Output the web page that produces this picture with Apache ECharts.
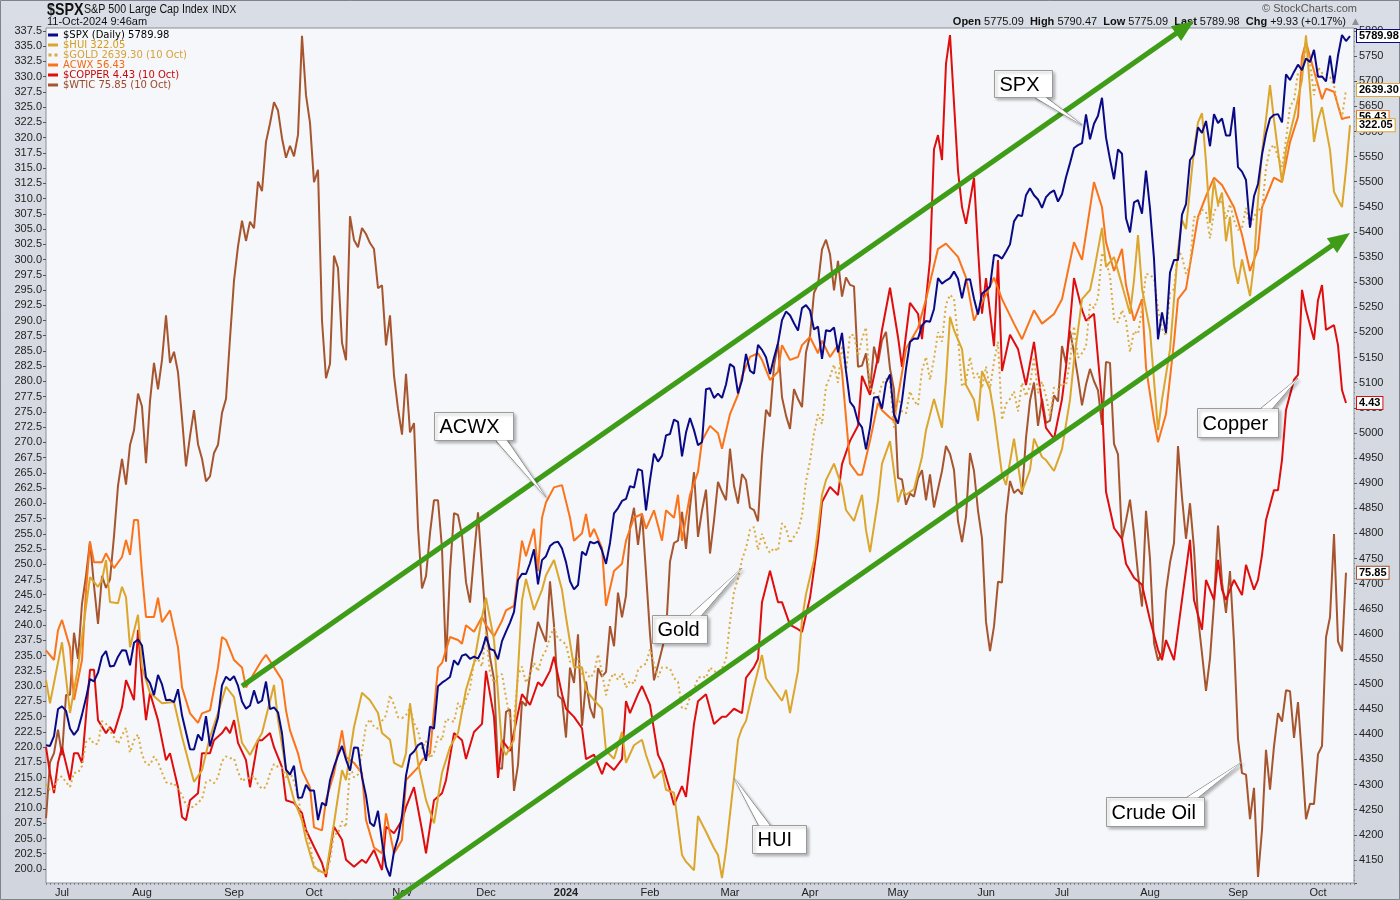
<!DOCTYPE html>
<html><head><meta charset="utf-8">
<script src="https://cdn.jsdelivr.net/npm/echarts@6.0.0/dist/echarts.min.js"></script>
<style>html,body{margin:0;padding:0;background:#d5dae3}#chart{width:1400px;height:900px}</style>
</head><body><div id="chart"></div>
<script>
// ---------- categories: NYSE trading days ----------
const HOLIDAYS = ['2023-07-04','2023-09-04','2023-11-23','2023-12-25','2024-01-01','2024-01-15','2024-02-19','2024-03-29','2024-05-27','2024-06-19','2024-07-04','2024-09-02'];
function tradingDays(a, b) {
  const out = []; const d = new Date(a + 'T00:00:00Z'); const end = new Date(b + 'T00:00:00Z');
  while (d <= end) {
    const dow = d.getUTCDay(); const s = d.toISOString().slice(0, 10);
    if (dow !== 0 && dow !== 6 && HOLIDAYS.indexOf(s) < 0) out.push(s);
    d.setUTCDate(d.getUTCDate() + 1);
  }
  return out;
}
const dates = tradingDays('2023-06-27', '2024-10-14');
const MONTHS = ['Jan','Feb','Mar','Apr','May','Jun','Jul','Aug','Sep','Oct','Nov','Dec'];

// ---------- series values (one per trading day, from 2023-06-27) ----------
const spx = [4378.41,4376.86,4396.44,4450.38,
4455.59,4446.82,4411.59,4398.95,4409.53,4439.26,4472.16,4510.04,4505.42,4522.79,4554.98,4565.72,4534.87,4536.34,4554.64,4567.46,4566.75,4537.41,4582.23,4588.96,
4576.73,4513.39,4501.89,4478.03,4518.44,4499.38,4467.71,4468.83,4464.05,4489.72,4437.86,4404.33,4370.36,4369.71,4399.77,4387.55,4436.01,4376.31,4405.71,4433.31,4497.63,4514.87,4507.66,
4515.77,4496.83,4465.48,4451.14,4457.49,4487.46,4461.90,4467.44,4505.10,4450.32,4453.53,4443.95,4402.20,4330.00,4320.06,4337.44,4273.53,4274.51,4299.70,4288.05,
4288.39,4229.45,4263.75,4258.19,4308.50,4335.66,4358.24,4376.95,4349.61,4327.78,4373.63,4373.20,4314.60,4278.00,4224.16,4217.04,4247.68,4186.77,4137.23,4117.37,4166.82,4193.80,
4237.86,4317.78,4358.34,4365.98,4378.38,4382.78,4347.35,4415.24,4411.55,4495.70,4502.88,4508.24,4514.02,4547.38,4538.19,4556.62,4559.34,4550.43,4554.89,4550.58,4567.80,
4594.63,4569.78,4567.18,4549.34,4585.59,4604.37,4622.44,4643.70,4707.09,4719.55,4719.19,4740.56,4768.37,4698.35,4746.75,4754.63,4774.75,4781.58,4783.35,4769.83,
4742.83,4704.81,4688.68,4697.24,4763.54,4756.50,4783.45,4780.24,4783.83,4765.98,4739.21,4780.94,4839.81,4850.43,4864.60,4868.55,4894.16,4890.97,4927.93,4924.97,4845.65,
4906.19,4958.61,4942.81,4954.23,4995.06,4997.91,5026.61,5021.84,4953.17,5000.62,5029.73,5005.57,4975.51,4981.80,5087.03,5088.80,5069.53,5078.18,5069.76,5096.27,
5137.08,5130.95,5078.65,5104.76,5157.36,5123.69,5117.94,5175.27,5165.31,5150.48,5117.09,5149.42,5178.51,5224.62,5241.53,5234.18,5218.19,5203.58,5248.49,5254.35,
5243.77,5205.81,5211.49,5147.21,5204.34,5202.39,5209.91,5160.64,5199.06,5123.41,5061.82,5051.41,5022.21,5011.12,4967.23,5010.60,5070.55,5071.63,5048.42,5099.96,5116.17,5035.69,
5018.39,5064.20,5127.79,5180.74,5187.70,5187.67,5214.08,5222.68,5221.42,5246.68,5308.15,5297.10,5303.27,5308.13,5321.41,5307.01,5267.84,5304.72,5306.04,5266.95,5235.48,5277.51,
5283.40,5291.34,5354.03,5352.96,5346.99,5360.79,5375.32,5421.03,5433.74,5431.60,5473.23,5487.03,5473.17,5464.62,5447.87,5469.30,5477.90,5482.87,5460.48,
5475.09,5509.01,5537.02,5567.19,5572.85,5576.98,5633.91,5584.54,5615.35,5631.22,5667.20,5588.27,5544.59,5505.00,5564.41,5555.74,5427.13,5399.22,5459.10,5463.54,5436.44,5522.30,
5446.68,5346.56,5186.33,5240.03,5199.50,5319.31,5344.16,5344.39,5434.43,5455.21,5543.22,5554.25,5608.25,5597.12,5620.85,5570.64,5634.61,5616.84,5625.80,5592.18,5591.96,5648.40,
5528.93,5520.07,5503.41,5408.42,5471.05,5495.52,5554.13,5595.76,5626.02,5633.09,5634.58,5618.26,5713.64,5702.55,5718.57,5732.93,5722.26,5745.37,5738.17,5762.48,
5708.75,5709.54,5699.94,5751.07,5695.94,5751.13,5792.04,5780.05,5789.98];

const gold = [1913,1907,1908,1919,
1921,1915,1910,1925,1925,1932,1957,1961,1955,1955,1979,1976,1969,1962,1955,1964,1972,1946,1959,1965,
1944,1934,1933,1942,1936,1925,1915,1913,1914,1907,1902,1891,1889,1889,1894,1897,1915,1917,1914,1920,1937,1942,1940,
1940,1926,1916,1919,1919,1922,1913,1908,1910,1924,1934,1931,1930,1920,1925,1916,1901,1874,1864,1849,
1828,1822,1821,1820,1833,1861,1861,1874,1868,1932,1920,1923,1947,1974,1981,1973,1971,1979,1985,2006,1996,1983,
1982,1985,1993,1977,1969,1950,1958,1940,1946,1963,1959,1981,1980,1978,1998,1991,2002,2013,2041,2044,2036,
2072,2029,2019,2026,2028,2004,1982,1979,2027,2036,2019,2027,2040,2031,2046,2053,2067,2077,2065,2063,
2059,2041,2043,2045,2028,2030,2024,2029,2049,2030,2006,2023,2029,2022,2029,2014,2021,2018,2032,2037,2039,
2054,2039,2025,2035,2035,2034,2024,2020,1992,1992,2004,2013,2024,2026,2024,2035,2031,2030,2034,2044,
2083,2114,2128,2148,2160,2179,2182,2158,2175,2162,2155,2160,2157,2186,2181,2165,2172,2178,2194,2230,
2251,2280,2300,2290,2329,2339,2352,2333,2372,2344,2383,2383,2361,2379,2391,2327,2322,2316,2332,2337,2335,2286,
2320,2303,2301,2324,2314,2309,2346,2360,2336,2358,2386,2376,2415,2425,2421,2379,2329,2334,2360,2338,2343,2327,
2350,2327,2355,2376,2294,2311,2316,2324,2303,2333,2319,2330,2360,2322,2334,2319,2298,2328,2326,
2333,2330,2356,2392,2359,2364,2371,2415,2411,2422,2469,2459,2445,2400,2396,2409,2398,2365,2387,2384,2410,2447,
2446,2442,2410,2390,2382,2427,2431,2472,2465,2447,2456,2507,2504,2514,2512,2484,2512,2518,2524,2504,2520,2503,
2493,2495,2516,2497,2506,2516,2512,2558,2578,2582,2569,2559,2587,2622,2629,2657,2660,2685,2668,2634,
2663,2657,2656,2653,2644,2622,2611,2639.30];

const wtic = [67.70,69.56,69.86,70.64,
69.79,71.79,71.80,73.86,72.99,74.83,75.75,76.89,75.42,74.15,75.75,75.35,75.63,77.07,78.74,79.63,78.78,80.09,80.58,81.80,
81.37,79.49,81.55,82.82,81.94,82.92,84.40,82.82,83.19,82.51,80.99,79.38,80.39,81.25,80.12,79.64,78.89,79.05,79.83,80.10,81.16,81.63,83.63,
85.55,86.69,87.54,86.87,87.51,87.29,88.84,88.52,90.16,90.77,91.48,91.20,90.28,89.63,90.03,89.68,90.39,93.68,91.71,90.79,
88.82,89.23,84.22,82.31,82.79,86.38,85.97,83.49,82.91,87.69,86.90,86.66,87.30,87.10,86.80,86.60,85.30,85.40,83.40,84.40,82.40,81.30,
80.44,82.46,80.51,80.82,77.37,75.33,75.74,77.17,78.26,78.26,76.66,72.90,75.89,77.83,77.77,77.10,75.54,74.86,76.41,77.86,75.96,
74.07,73.04,72.32,69.38,69.34,71.23,71.32,68.61,69.47,71.58,71.43,72.47,73.44,74.22,73.89,73.56,75.57,74.11,71.77,71.65,
70.38,72.70,72.19,73.81,70.77,72.24,71.37,71.02,72.68,72.40,72.56,74.08,73.41,75.19,74.37,75.09,77.36,78.01,76.78,77.82,75.85,
73.82,72.28,72.78,73.31,73.86,76.22,76.84,76.92,77.87,76.64,78.03,79.19,77.04,77.91,78.61,76.49,77.58,78.87,78.54,78.26,
79.97,78.74,78.15,79.13,78.93,78.01,77.93,77.56,79.72,81.26,81.04,82.72,83.47,81.68,81.07,80.63,81.95,81.62,81.35,83.17,
83.71,85.15,85.43,86.59,86.91,86.43,85.23,86.21,85.02,85.66,85.41,85.36,82.69,82.73,83.14,81.90,83.36,82.81,83.57,83.85,82.63,81.93,
79.00,78.95,78.11,78.48,78.38,78.99,79.26,78.26,79.12,78.02,78.63,79.23,80.06,79.80,79.26,77.57,76.87,77.72,79.83,79.23,77.91,76.99,
74.22,73.25,74.07,75.55,75.53,77.74,78.90,78.50,78.62,78.45,80.33,81.57,82.17,80.73,81.63,80.83,80.90,81.74,81.54,
83.38,82.81,83.88,83.16,82.33,81.41,82.10,82.62,82.21,81.91,80.76,82.85,82.82,80.13,79.78,76.96,77.59,78.28,77.16,75.81,74.73,77.91,
76.31,73.52,72.94,73.20,75.23,76.19,76.84,80.06,78.35,76.98,78.16,76.65,74.37,73.17,71.93,73.01,74.83,77.42,75.53,74.52,75.91,73.55,
70.34,69.20,69.15,67.67,68.71,65.75,67.31,69.97,68.65,70.09,71.19,70.91,71.95,71.92,70.37,71.56,69.69,67.67,68.18,68.17,
69.83,70.10,73.71,74.38,77.14,73.57,73.24,75.85];

// ---------- series values read at turning points: [trading-day index, value] ----------
const hui = [[0,231.0],[1,227.2],[4,237.2],[6,225.6],[8,233.1],[10,243.0],[11,247.9],[13,246.3],[14,247.4],[15,250.7],[16,243.8],[18,243.6],[19,246.3],[20,244.6],[21,236.4],[23,241.7],[24,233.1],[26,228.9],[29,227.2],[32,227.4],[34,221.7],[36,216.7],[37,214.3],[39,216.2],[41,221.7],[43,225.6],[45,229.9],[47,228.2],[49,220.7],[51,218.7],[53,221.2],[54,222.3],[57,230.2],[58,224.5],[60,216.2],[62,211.3],[64,208.0],[65,204.8],[67,200.3],[69,199.5],[70,199.3],[72,207.5],[74,216.2],[75,214.6],[77,223.3],[79,228.9],[81,227.7],[83,225.6],[84,222.3],[86,221.2],[87,217.4],[89,216.7],[90,219.0],[91,227.2],[93,217.4],[95,211.3],[97,207.5],[99,215.8],[101,220.0],[103,222.3],[105,229.4],[107,233.8],[109,241.3],[110,244.5],[112,237.6],[114,220.0],[115,218.7],[117,221.2],[119,244.1],[120,247.6],[122,242.5],[124,245.8],[125,248.2],[127,250.7],[129,245.8],[130,241.3],[132,233.1],[134,233.1],[135,229.4],[137,227.7],[139,226.3],[140,219.4],[142,218.1],[144,222.5],[145,217.4],[147,220.3],[149,221.2],[150,218.7],[152,214.9],[154,216.2],[155,213.0],[157,212.5],[159,202.3],[160,201.2],[162,199.8],[163,208.7],[164,207.4],[165,206.1],[167,203.4],[168,202.3],[169,198.5],[170,203.1],[172,214.9],[173,221.2],[174,223.1],[175,224.3],[177,230.0],[179,235.1],[180,231.3],[182,229.4],[184,227.6],[185,229.4],[186,225.6],[188,232.5],[189,240.9],[190,245.1],[192,250.7],[193,255.8],[194,261.4],[195,263.8],[197,266.5],[199,262.7],[200,258.9],[202,257.1],[204,261.4],[205,255.6],[206,252.0],[208,260.5],[209,266.5],[211,270.2],[213,260.2],[214,262.3],[215,261.4],[217,262.3],[219,267.6],[220,272.0],[222,277.1],[224,272.4],[225,280.2],[226,290.6],[227,288.4],[229,285.3],[230,279.4],[232,277.0],[233,273.5],[234,281.7],[236,278.6],[237,274.7],[239,264.8],[240,263.0],[242,270.6],[243,266.3],[244,261.9],[246,265.5],[247,270.6],[249,267.6],[250,267.1],[252,265.3],[253,267.1],[254,268.9],[256,277.0],[257,283.5],[258,288.4],[259,293.5],[261,295.0],[262,298.1],[264,305.2],[265,298.8],[267,300.4],[269,295.8],[271,291.1],[272,296.6],[273,304.0],[274,295.2],[276,288.4],[277,280.2],[278,272.0],[279,277.0],[281,285.2],[282,293.4],[283,301.6],[284,306.5],[285,305.0],[286,311.6],[287,318.0],[288,322.5],[289,324.0],[290,316.0],[291,306.0],[292,313.0],[293,309.0],[294,311.0],[295,303.0],[296,307.0],[297,299.0],[298,296.0],[299,300.0],[300,297.0],[301,294.0],[302,299.3],[303,309.8],[304,317.5],[306,328.6],[307,322.9],[309,312.7],[310,318.0],[312,323.4],[314,329.5],[315,336.8],[317,319.3],[318,322.9],[319,325.0],[321,318.0],[322,311.1],[323,309.8],[324,308.6],[325,314.7],[326,322.05]];

const acwx = [[0,49.23],[2,49.10],[3,49.50],[4,49.64],[6,49.27],[7,48.56],[8,48.83],[9,49.10],[10,50.04],[11,50.69],[12,50.42],[14,50.42],[15,50.54],[17,50.34],[19,50.49],[20,50.72],[21,50.52],[22,50.99],[23,50.99],[24,50.27],[25,49.68],[27,49.68],[28,49.94],[29,49.61],[31,49.77],[33,49.27],[34,48.73],[36,48.38],[38,48.25],[39,48.38],[41,48.42],[43,49.00],[44,49.41],[45,49.37],[47,49.10],[49,49.00],[50,48.73],[52,48.92],[54,49.10],[55,49.17],[57,49.00],[59,48.83],[60,48.42],[61,48.15],[63,47.84],[64,47.61],[66,47.38],[67,46.84],[69,46.80],[70,47.21],[72,47.57],[74,48.15],[75,47.79],[77,47.71],[79,47.57],[80,46.94],[82,46.57],[84,46.49],[85,47.03],[87,46.49],[89,46.67],[90,47.48],[93,47.65],[94,47.75],[96,47.84],[98,49.00],[99,49.06],[101,49.41],[103,49.37],[104,49.32],[105,49.57],[107,49.48],[109,49.68],[110,49.57],[112,49.42],[114,49.63],[115,49.77],[117,49.83],[119,50.71],[120,50.50],[122,50.87],[123,50.30],[124,51.02],[125,51.23],[127,51.43],[129,51.46],[131,51.02],[132,50.71],[134,50.81],[135,51.07],[136,50.76],[137,50.87],[139,50.61],[140,49.83],[142,50.30],[144,50.40],[145,50.71],[147,51.02],[149,51.07],[150,50.87],[152,51.12],[154,50.71],[155,51.12],[157,51.02],[158,51.33],[159,50.71],[161,51.33],[163,51.64],[164,52.06],[166,52.26],[168,52.16],[169,51.95],[171,52.42],[173,52.68],[174,52.93],[176,53.19],[178,53.24],[179,53.15],[181,52.88],[183,52.99],[184,53.35],[186,53.15],[188,53.19],[189,53.35],[191,53.46],[193,53.24],[194,53.41],[196,53.19],[198,53.35],[199,52.99],[201,51.75],[203,51.60],[204,51.60],[206,52.06],[208,52.57],[209,52.47],[211,52.37],[212,52.33],[215,53.30],[218,53.58],[220,53.97],[223,54.65],[225,54.72],[228,54.54],[230,54.26],[232,53.68],[234,53.92],[237,54.26],[239,53.97],[242,53.64],[244,53.43],[247,53.82],[249,53.64],[252,53.77],[254,53.97],[257,54.74],[259,54.50],[262,55.55],[264,55.21],[265,54.74],[267,54.35],[269,54.65],[270,54.16],[272,53.68],[274,53.97],[275,53.05],[277,52.33],[278,52.04],[280,52.42],[282,53.39],[283,53.97],[285,54.11],[288,55.08],[290,55.36],[292,55.61],[294,55.51],[297,55.21],[299,54.84],[301,54.35],[303,54.65],[304,55.21],[307,55.61],[309,55.55],[311,56.09],[313,56.43],[314,57.24],[315,57.44],[317,57.05],[319,56.67],[320,56.81],[322,56.77],[324,56.40],[325,56.42],[326,56.43]];

const copper = [[0,3.794],[1,3.746],[2,3.709],[3,3.765],[4,3.794],[6,3.733],[7,3.783],[8,3.783],[9,3.765],[11,3.937],[12,3.937],[13,3.844],[15,3.820],[16,3.831],[17,3.820],[19,3.868],[20,3.918],[21,3.900],[22,3.881],[23,4.011],[24,3.918],[25,3.844],[26,3.894],[28,3.844],[30,3.770],[31,3.783],[33,3.720],[34,3.665],[35,3.659],[36,3.696],[38,3.709],[39,3.783],[41,3.783],[42,3.807],[44,3.820],[45,3.831],[46,3.820],[47,3.844],[48,3.802],[50,3.770],[51,3.720],[53,3.807],[54,3.807],[56,3.820],[57,3.794],[59,3.757],[60,3.696],[62,3.691],[64,3.672],[65,3.641],[67,3.610],[69,3.580],[70,3.554],[72,3.647],[74,3.623],[75,3.586],[77,3.573],[79,3.586],[80,3.580],[82,3.604],[84,3.567],[85,3.647],[87,3.635],[89,3.659],[90,3.683],[92,3.720],[94,3.641],[95,3.598],[97,3.696],[99,3.709],[100,3.733],[102,3.820],[104,3.807],[105,3.772],[107,3.822],[109,3.837],[110,3.935],[112,3.850],[113,3.737],[114,3.807],[116,3.787],[118,3.857],[119,3.892],[121,3.872],[123,3.914],[124,3.907],[126,3.935],[127,3.961],[129,3.892],[130,3.865],[132,3.850],[134,3.829],[135,3.772],[137,3.780],[139,3.744],[140,3.765],[142,3.752],[144,3.772],[145,3.879],[146,3.857],[148,3.892],[149,3.907],[151,3.872],[153,3.780],[154,3.765],[156,3.715],[157,3.687],[159,3.722],[160,3.702],[162,3.837],[163,3.879],[165,3.892],[167,3.837],[169,3.850],[170,3.850],[172,3.865],[174,3.857],[175,3.922],[177,3.942],[178,3.957],[179,4.062],[181,4.120],[183,4.062],[184,4.062],[186,4.020],[188,4.012],[189,4.007],[191,4.070],[193,4.175],[194,4.247],[196,4.275],[198,4.260],[199,4.317],[201,4.360],[203,4.388],[204,4.480],[206,4.445],[208,4.515],[209,4.565],[211,4.643],[213,4.552],[214,4.497],[216,4.615],[218,4.595],[219,4.548],[221,4.694],[222,4.899],[223,4.925],[224,4.879],[225,5.057],[226,5.110],[228,4.859],[229,4.792],[230,4.761],[232,4.846],[233,4.715],[234,4.595],[235,4.661],[237,4.535],[238,4.694],[239,4.489],[241,4.556],[243,4.530],[245,4.463],[247,4.543],[249,4.430],[250,4.384],[252,4.364],[254,4.437],[255,4.497],[257,4.661],[259,4.602],[260,4.582],[262,4.595],[264,4.430],[265,4.266],[267,4.199],[269,4.179],[270,4.133],[272,4.107],[274,4.094],[276,4.029],[278,3.974],[279,3.955],[280,3.992],[282,3.955],[284,4.066],[285,4.121],[286,4.177],[287,4.066],[289,4.011],[290,4.103],[292,4.066],[293,4.140],[294,4.085],[295,4.066],[297,4.103],[299,4.075],[300,4.131],[302,4.085],[303,4.103],[304,4.149],[305,4.214],[307,4.269],[308,4.269],[309,4.325],[310,4.417],[312,4.473],[313,4.482],[314,4.639],[315,4.602],[317,4.547],[318,4.620],[319,4.648],[320,4.565],[322,4.574],[323,4.537],[324,4.454],[325,4.43]];

// ---------- annotations in data coordinates (trading-day index, S&P 500 level) ----------
const trendLines = [ { from: [49, 4496], to: [287, 5820] }, { from: [87, 4070], to: [326, 5398] } ];
const callouts = [
  { text: 'SPX', at: [259, 5613] }, { text: 'ACWX', at: [125, 4872] }, { text: 'Gold', at: [174, 4731] },
  { text: 'HUI', at: [172, 4313] }, { text: 'Copper', at: [313, 5109] }, { text: 'Crude Oil', at: [299, 4345] }
];
const legendText = {
  '$SPX': '$SPX (Daily) 5789.98', '$HUI': '$HUI 322.05', '$GOLD': '$GOLD 2639.30 (10 Oct)',
  'ACWX': 'ACWX 56.43', '$COPPER': '$COPPER 4.43 (10 Oct)', '$WTIC': '$WTIC 75.85 (10 Oct)'
};

// ---------- layout / style ----------
const calloutLayout = {
  'SPX': [-88, -55, 58, 27], 'ACWX': [-112, -85, 79, 28], 'Gold': [-90, 47, 55, 28],
  'HUI': [18, 47, 54, 28], 'Copper': [-101, 30, 81, 29], 'Crude Oil': [-136, 35, 98, 29]
};
const C = { spx: '#0a0a86', hui: '#dba62b', gold: '#dcaa40', acwx: '#fb7419', copper: '#e00d0d', wtic: '#a6552e', green: '#3f9c17' };
const FONT = 'Liberation Sans';

function isMonthStart(i) { return i > 0 && i < dates.length && dates[i].slice(5, 7) !== dates[i - 1].slice(5, 7); }
function onStep(v, step) { return Math.abs(v / step - Math.round(v / step)) < 1e-6; }

function endLabel(color, dist) {
  return { show: true, distance: dist, color: '#000', fontWeight: 'bold', fontSize: 11, fontFamily: FONT,
    backgroundColor: '#fff', borderColor: color, borderWidth: 1, padding: [1, 2, 0, 2],
    formatter: p => { const v = Array.isArray(p.value) ? p.value[1] : p.value; return Number(v).toFixed(2); } };
}
function line(name, yAxisIndex, data, color, z, dist, dashed) {
  return { name, type: 'line', xAxisIndex: 0, yAxisIndex, data, symbol: 'none', showSymbol: false, silent: true, z,
    lineStyle: { color, width: 2, type: dashed ? [2, 3] : 'solid' }, itemStyle: { color },
    emphasis: { disabled: true }, endLabel: endLabel(color, dist) };
}
const hiddenY = (min, max) => ({ type: 'value', min, max, show: false, splitLine: { show: false } });

const option = {
  animation: false,
  backgroundColor: { type: 'linear', x: 0, y: 0, x2: 0, y2: 1, colorStops: [{ offset: 0, color: '#d9dde5' }, { offset: 1, color: '#d0d5de' }] },
  grid: { left: 46, right: 46, top: 28, bottom: 17, show: true, backgroundColor: '#f5f7fa', borderColor: '#8b9099', borderWidth: 1 },
  legend: {
    orient: 'vertical', left: 48, top: 30, itemGap: 0, itemWidth: 10, itemHeight: 3, padding: 0, selectedMode: false,
    textStyle: { fontFamily: 'DejaVu Sans', fontSize: 10, lineHeight: 10 },
    formatter: n => legendText[n],
    data: [
      { name: '$SPX', icon: 'path://M0,0h10v3h-10z', itemStyle: { color: C.spx }, textStyle: { color: '#000' } },
      { name: '$HUI', icon: 'path://M0,0h10v3h-10z', itemStyle: { color: C.hui }, textStyle: { color: '#d49b1c' } },
      { name: '$GOLD', icon: 'path://M0,0h3v3h-3z M6,0h3v3h-3z', itemStyle: { color: C.gold }, textStyle: { color: '#d6a23a' } },
      { name: 'ACWX', icon: 'path://M0,0h10v3h-10z', itemStyle: { color: C.acwx }, textStyle: { color: '#f36a10' } },
      { name: '$COPPER', icon: 'path://M0,0h10v3h-10z', itemStyle: { color: C.copper }, textStyle: { color: '#c80a0a' } },
      { name: '$WTIC', icon: 'path://M0,0h10v3h-10z', itemStyle: { color: C.wtic }, textStyle: { color: '#9a4a28' } }
    ]
  },
  xAxis: {
    type: 'category', data: dates, boundaryGap: false,
    axisLine: { show: false },
    axisTick: { show: true, interval: 0, length: 2, lineStyle: { color: '#7d828c' } },
    axisLabel: {
      interval: i => isMonthStart(i), margin: 4, fontSize: 11, fontFamily: FONT, color: '#222',
      formatter: v => { const m = +v.slice(5, 7); return m === 1 ? '{b|' + v.slice(0, 4) + '}' : MONTHS[m - 1]; },
      rich: { b: { fontWeight: 'bold', fontSize: 11, fontFamily: FONT, color: '#222' } }
    },
    splitLine: { show: false }
  },
  yAxis: [
    { type: 'value', position: 'left', min: 197.70, max: 337.99, minInterval: 2.5, maxInterval: 2.5,
      axisLine: { show: false }, splitLine: { show: false },
      axisTick: { show: true, length: 3, lineStyle: { color: '#555' } },
      axisLabel: { margin: 4, fontSize: 11, fontFamily: FONT, color: '#222', showMinLabel: false, showMaxLabel: false,
        formatter: v => onStep(v, 2.5) ? v.toFixed(1) : '' } },
    { type: 'value', position: 'right', min: 4104.1, max: 5806, minInterval: 50, maxInterval: 50,
      axisLine: { show: false }, splitLine: { show: false },
      axisTick: { show: true, length: 3, lineStyle: { color: '#555' } },
      minorTick: { show: true, splitNumber: 5, length: 1, lineStyle: { color: '#888' } },
      axisLabel: { margin: 5, fontSize: 11, fontFamily: FONT, color: '#222', showMinLabel: false, showMaxLabel: false,
        formatter: v => onStep(v, 50) ? String(Math.round(v)) : '' } },
    hiddenY(1809.5, 2704.2),   // gold
    hiddenY(46.09, 57.63),     // ACWX
    hiddenY(3.543, 5.123),     // copper
    hiddenY(65.55, 93.94)      // WTIC
  ],
  series: [
    line('$WTIC', 5, wtic, C.wtic, 2, 11),
    line('$COPPER', 4, copper, C.copper, 3, 11),
    line('ACWX', 3, acwx, C.acwx, 4, 7),
    line('$GOLD', 2, gold, C.gold, 5, 11, true),
    line('$HUI', 0, hui, C.hui, 6, 7),
    line('$SPX', 1, spx, C.spx, 7, 7)
  ]
};

const chart = echarts.init(document.getElementById('chart'), null, { renderer: 'canvas' });
chart.setOption(option);

// ---------- overlays positioned through the chart's own scales ----------
const toPx = p => chart.convertToPixel({ xAxisIndex: 0, yAxisIndex: 1 }, p);
const g = [];
const mid = { verticalAlign: 'middle', textVerticalAlign: 'middle' };
// header
g.push({ type: 'text', z: 50, x: 47, y: 10, scaleX: 0.84, style: Object.assign({ text: '$SPX', x: 0, y: 0, font: 'bold 17px "Liberation Sans"', fill: '#111' }, mid) });
g.push({ type: 'text', z: 50, x: 84, y: 10, scaleX: 0.89, style: Object.assign({ text: 'S&P 500 Large Cap Index', x: 0, y: 0, font: '12px "Liberation Sans"', fill: '#111' }, mid) });
g.push({ type: 'text', z: 50, x: 212, y: 10, scaleX: 0.92, style: Object.assign({ text: 'INDX', x: 0, y: 0, font: '11px "Liberation Sans"', fill: '#111' }, mid) });
g.push({ type: 'text', z: 50, style: Object.assign({ text: '11-Oct-2024 9:46am', x: 47, y: 22, font: '11px "Liberation Sans"', fill: '#111' }, mid) });
g.push({ type: 'text', z: 50, style: Object.assign({ text: '\u00A9 StockCharts.com', x: 1357, y: 9, font: '11px "Liberation Sans"', fill: '#555', align: 'right', textAlign: 'right' }, mid) });
g.push({ type: 'text', z: 50, style: Object.assign({
  text: '{b|Open} 5775.09  {b|High} 5790.47  {b|Low} 5775.09  {b|Last} 5789.98  {b|Chg} +9.93 (+0.17%)',
  x: 1346, y: 22, font: '11px "Liberation Sans"', fill: '#111', align: 'right', textAlign: 'right',
  rich: { b: { fontWeight: 'bold', fontSize: 11, fontFamily: FONT, fill: '#111', color: '#111' } } }, mid) });
g.push({ type: 'text', z: 50, style: Object.assign({ text: '\u25B2', x: 1352, y: 22, font: '9px "DejaVu Sans"', fill: '#8a8f98' }, mid) });
g.push({ type: 'rect', z: 1, silent: true, shape: { x: 0.5, y: 0.5, width: 1399, height: 899 }, style: { fill: 'none', stroke: '#7e848e', lineWidth: 1 } });

// trend lines with arrow heads
trendLines.forEach(t => {
  const a = toPx(t.from), b = toPx(t.to);
  const dx = b[0] - a[0], dy = b[1] - a[1], len = Math.hypot(dx, dy), ux = dx / len, uy = dy / len;
  const L = 22, W = 9, bx = b[0] - ux * L, by = b[1] - uy * L;
  g.push({ type: 'line', z: 60, silent: true, shape: { x1: a[0], y1: a[1], x2: bx + ux * 2, y2: by + uy * 2 }, style: { stroke: C.green, lineWidth: 5 } });
  g.push({ type: 'polygon', z: 60, silent: true, shape: { points: [[b[0], b[1]], [bx - uy * W, by + ux * W], [bx + uy * W, by - ux * W]] }, style: { fill: C.green } });
});

// callout boxes
callouts.forEach(c => {
  const [tx, ty] = toPx(c.at);
  const [ox, oy, w, h] = calloutLayout[c.text];
  const bx = Math.round(tx + ox) + 0.5, by = Math.round(ty + oy) + 0.5;
  const right = tx > bx + w / 2, below = ty > by + h / 2;
  const ey = below ? by + h : by;
  const x1 = right ? bx + w - 18 : bx + 6, x2 = right ? bx + w - 6 : bx + 18;
  const shadow = { shadowBlur: 3, shadowOffsetX: 2, shadowOffsetY: 2, shadowColor: 'rgba(0,0,0,0.28)' };
  g.push({ type: 'polygon', z: 70, silent: true, shape: { points: [[x1, ey], [tx, ty], [x2, ey]] }, style: Object.assign({ fill: '#fff', stroke: '#8f8f8f', lineWidth: 1 }, shadow) });
  g.push({ type: 'rect', z: 71, silent: true, shape: { x: bx, y: by, width: w, height: h }, style: Object.assign({ fill: '#fff', stroke: '#9a9a9a', lineWidth: 1 }, shadow) });
  g.push({ type: 'polygon', z: 72, silent: true, shape: { points: [[x1 + 1, ey], [tx, ty], [x2 - 1, ey]] }, style: { fill: '#fff' } });
  g.push({ type: 'text', z: 73, silent: true, style: Object.assign({ text: c.text, x: bx + 5, y: by + h / 2 + 1, font: '20px "Liberation Sans"', fill: '#000' }, mid) });
});
chart.setOption({ graphic: g });
</script></body></html>
